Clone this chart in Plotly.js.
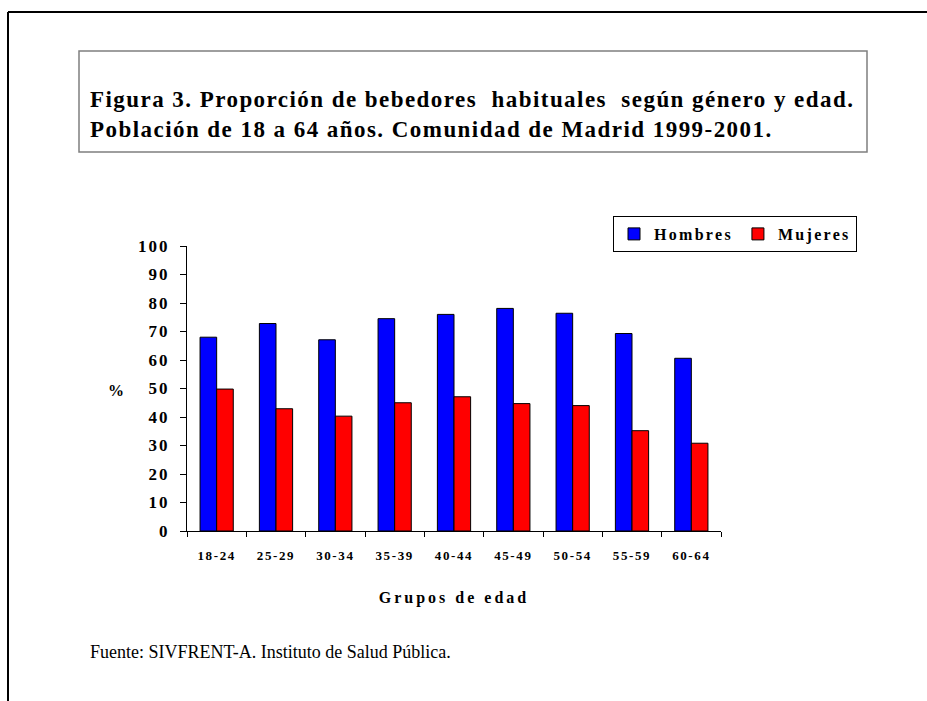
<!DOCTYPE html>
<html>
<head>
<meta charset="utf-8">
<script src="https://cdn.plot.ly/plotly-3.0.1.min.js"></script>
<style>
  html, body { margin: 0; padding: 0; background: #fff; }
  #chart { width: 927px; height: 701px; }
  .xtick text { letter-spacing: 1.6px; }
  .ytick text { letter-spacing: 2px; }
  .legendtext { letter-spacing: 2.3px; }
  .g-xtitle text { letter-spacing: 3px; }
  .gtitle { letter-spacing: 1.45px; }
</style>
</head>
<body>
<div id="chart"></div>
<script>
const categories = ["18-24", "25-29", "30-34", "35-39", "40-44", "45-49", "50-54", "55-59", "60-64"];
const hombres = [68.0, 72.8, 67.1, 74.5, 76.0, 78.1, 76.4, 69.3, 60.6];
const mujeres = [49.8, 42.9, 40.3, 45.0, 47.1, 44.7, 44.0, 35.2, 30.8];
const seriesNames = ["Hombres", "Mujeres"];
const yTicks = [0, 10, 20, 30, 40, 50, 60, 70, 80, 90, 100];

const W = 927, H = 701;
const L = 187, R = 721, T = 246, B = 531;
const px2x = p => (p - L) / (R - L);
const py2y = p => (B - p) / (B - T);

const serif = "Liberation Serif, Times New Roman, serif";

const traces = [
  { type: 'bar', name: seriesNames[0], x: categories, y: hombres,
    marker: { color: '#0000FF', line: { color: '#000000', width: 1 } } },
  { type: 'bar', name: seriesNames[1], x: categories, y: mujeres,
    marker: { color: '#FF0000', line: { color: '#000000', width: 1 } } }
];

const layout = {
  width: W, height: H,
  margin: { l: L, r: W - R, t: T, b: H - B, pad: 0 },
  paper_bgcolor: '#ffffff', plot_bgcolor: '#ffffff',
  barmode: 'group', bargap: 0.44, bargroupgap: 0,
  showlegend: true,
  font: { family: serif, color: '#000' },
  title: {
    text: '<b>Figura 3. Proporción de bebedores\u00a0 habituales\u00a0 según género y edad.</b><br><b>Población de 18 a 64 años. Comunidad de Madrid 1999-2001.</b>',
    font: { family: serif, size: 23, color: '#000' },
    xref: 'container', yref: 'container',
    x: 90 / W, xanchor: 'left',
    y: 1 - 107 / H, yanchor: 'top'
  },
  xaxis: {
    type: 'category',
    showline: true, linecolor: '#000', linewidth: 1,
    ticks: 'outside', ticklen: 5, tickcolor: '#000', tickwidth: 1,
    tickson: 'boundaries',
    showgrid: false, zeroline: false,
    tickfont: { family: serif, size: 13, color: '#000', weight: 'bold' },
    ticklabelstandoff: 12,
    title: { text: '<b>Grupos de edad</b>', font: { family: serif, size: 16, color: '#000' }, standoff: 30 },
    fixedrange: true
  },
  yaxis: {
    range: [0, 100], tickvals: yTicks, ticktext: yTicks.map(String),
    showline: true, linecolor: '#000', linewidth: 1,
    ticks: 'outside', ticklen: 6, tickcolor: '#000', tickwidth: 1,
    showgrid: false, zeroline: false,
    tickfont: { family: serif, size: 17, color: '#000', weight: 'bold' },
    ticklabelstandoff: 7,
    fixedrange: true
  },
  legend: {
    orientation: 'h',
    x: px2x(613), xanchor: 'left',
    y: py2y(216), yanchor: 'top',
    bordercolor: '#000', borderwidth: 1,
    bgcolor: '#fff',
    font: { family: serif, size: 16, color: '#000', weight: 'bold' },
    itemwidth: 30,
    tracegroupgap: 0
  },
  shapes: [
    { type: 'rect', xref: 'paper', yref: 'paper',
      x0: px2x(79), x1: px2x(867), y0: py2y(51), y1: py2y(152),
      line: { color: '#7f7f7f', width: 1.5 }, fillcolor: 'rgba(0,0,0,0)' },
    { type: 'line', xref: 'paper', yref: 'paper',
      x0: px2x(8), x1: px2x(927), y0: py2y(12), y1: py2y(12),
      line: { color: '#000', width: 2 } },
    { type: 'line', xref: 'paper', yref: 'paper',
      x0: px2x(8), x1: px2x(8), y0: py2y(12), y1: py2y(701),
      line: { color: '#000', width: 2 } }
  ],
  annotations: [
    { text: '<b>%</b>', xref: 'paper', yref: 'paper',
      x: px2x(116), y: py2y(390), xanchor: 'center', yanchor: 'middle',
      showarrow: false, font: { family: serif, size: 16, color: '#000' } },
    { text: 'Fuente: SIVFRENT-A. Instituto de Salud Pública.', xref: 'paper', yref: 'paper',
      x: px2x(88), y: py2y(652), xanchor: 'left', yanchor: 'middle',
      showarrow: false, font: { family: serif, size: 18, color: '#000' } }
  ]
};

Plotly.newPlot('chart', traces, layout, { displayModeBar: false, staticPlot: true });
</script>
</body>
</html>
